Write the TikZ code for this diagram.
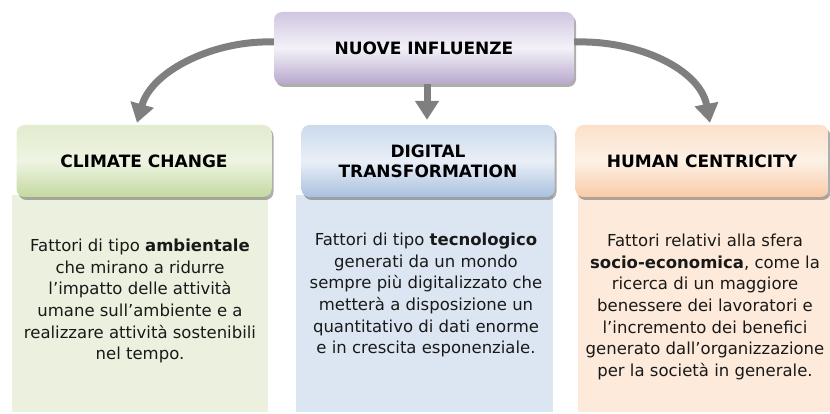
\documentclass[tikz,border=0pt]{standalone}
\usepackage{fontspec}
\setmainfont{DejaVu Sans}
\usetikzlibrary{shadows,arrows.meta}
\definecolor{arrgray}{HTML}{7F7F7F}
\definecolor{gtop}{HTML}{E2ECCF}\definecolor{gmid}{HTML}{EEF4E2}\definecolor{gbot}{HTML}{C4D8A0}
\definecolor{btop}{HTML}{CBDAEC}\definecolor{bmid}{HTML}{E9EFF7}\definecolor{bbot}{HTML}{A9C1DE}
\definecolor{otop}{HTML}{FBE1CB}\definecolor{omid}{HTML}{FDF1E6}\definecolor{obot}{HTML}{F8CBA6}
\definecolor{ptop}{HTML}{D0C6E1}\definecolor{pmid}{HTML}{F4F1F8}\definecolor{pbot}{HTML}{B8A8CE}
\definecolor{gbody}{HTML}{EBF1DE}\definecolor{bbody}{HTML}{DCE6F2}\definecolor{obody}{HTML}{FDEADA}
\tikzset{
  header/.style={rounded corners=8pt, draw=none, align=center,
    font=\fontsize{17}{20}\selectfont\bfseries,
    drop shadow={shadow xshift=2pt, shadow yshift=-3pt, opacity=0.45, fill=black!70}},
  bodybox/.style={draw=none, inner sep=0pt},
  bodytext/.style={align=center, font=\fontsize{16.5}{21.7}\selectfont, text=black!90},
  arr/.style={draw=arrgray, line width=7pt, -{Triangle[width=23pt,length=19pt]}}
}
\begin{document}
\begin{tikzpicture}[x=1pt,y=-1pt]
\useasboundingbox (0,0) rectangle (830,414);
% bodies
\node[bodybox, fill=gbody, minimum width=256pt, minimum height=217pt] (b1) at (140,303.5) {};
\node[bodybox, fill=bbody, minimum width=257pt, minimum height=217pt] (b2) at (424.5,303.5) {};
\node[bodybox, fill=obody, minimum width=252pt, minimum height=217pt] (b3) at (704,303.5) {};
% headers
\node[header, top color=gtop, bottom color=gbot, middle color=gmid, minimum width=255pt, minimum height=72pt] (h1) at (144,161) {CLIMATE CHANGE};
\node[header, top color=btop, bottom color=bbot, middle color=bmid, minimum width=253pt, minimum height=72pt] (h2) at (428,161) {DIGITAL\\TRANSFORMATION};
\node[header, top color=otop, bottom color=obot, middle color=omid, minimum width=253pt, minimum height=72pt] (h3) at (702,161) {HUMAN CENTRICITY};
% top
\node[header, top color=ptop, bottom color=pbot, middle color=pmid, minimum width=300pt, minimum height=72pt] (top) at (424,48) {NUOVE INFLUENZE};
% texts
\node[bodytext] (t1) at (140,301) {Fattori di tipo \textbf{ambientale}\\che mirano a ridurre\\l’impatto delle attività\\umane sull’ambiente e a\\realizzare attività sostenibili\\nel tempo.};
\node[bodytext] (t2) at (426,295) {Fattori di tipo \textbf{tecnologico}\\generati da un mondo\\sempre più digitalizzato che\\metterà a disposizione un\\quantitativo di dati enorme\\e in crescita esponenziale.};
\node[bodytext] (t3) at (705,307) {Fattori relativi alla sfera\\\textbf{socio-economica}, come la\\ricerca di un maggiore\\benessere dei lavoratori e\\l’incremento dei benefici\\generato dall’organizzazione\\per la società in generale.};
% arrows
\draw[arr] ([yshift=6pt]top.west) .. controls (215,40) and (152,70) .. ([xshift=-7pt,yshift=2pt]h1.north);
\draw[arr] ([xshift=3pt]top.south) -- ([xshift=3pt,yshift=5pt]top.south |- h2.north);
\draw[arr] ([yshift=6pt]top.east) .. controls (640,40) and (700,70) .. ([xshift=8pt,yshift=2pt]h3.north);
\end{tikzpicture}
\end{document}
